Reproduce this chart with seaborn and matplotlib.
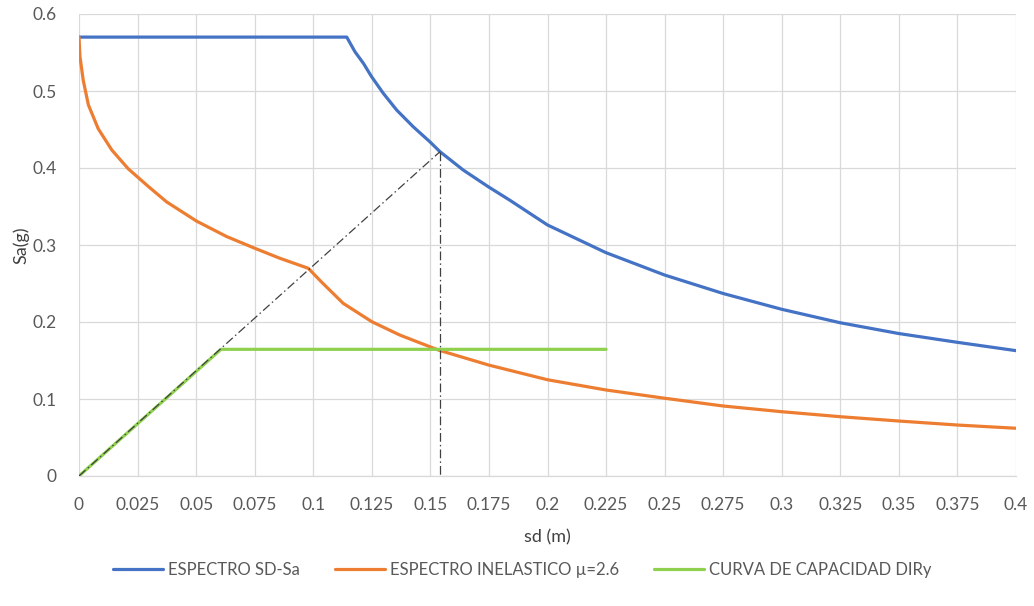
import matplotlib
matplotlib.use("Agg")
import matplotlib.pyplot as plt
import seaborn as sns
import pandas as pd
import numpy as np

# ---- data ----
sd_elastic = [0.0, 0.1143, 0.1178, 0.1214, 0.1249, 0.1299, 0.1356, 0.1427, 0.1498,
              0.1541, 0.164, 0.1747, 0.184, 0.2, 0.225, 0.25, 0.275, 0.3, 0.325,
              0.35, 0.375, 0.4]
sa_elastic = [0.570, 0.570, 0.551, 0.536, 0.5186, 0.497, 0.4753, 0.4535, 0.434,
              0.4212, 0.3974, 0.3757, 0.358, 0.326, 0.290, 0.261, 0.237, 0.2165, 0.199,
              0.185, 0.1736, 0.1628]

sd_inelastic = [0.0, 0.0004, 0.0018, 0.004, 0.0082, 0.014, 0.021, 0.0296, 0.0374,
                0.0502, 0.063, 0.0751, 0.0858, 0.0979, 0.1035, 0.1128, 0.125, 0.137,
                0.1534, 0.175, 0.2, 0.225, 0.25, 0.275, 0.3, 0.325, 0.35, 0.375, 0.4]
sa_inelastic = [0.570, 0.545, 0.514, 0.482, 0.451, 0.4234, 0.399, 0.376, 0.356,
                0.331, 0.311, 0.2957, 0.2827, 0.2697, 0.252, 0.2242, 0.2004, 0.183,
                0.1636, 0.144, 0.125, 0.1117, 0.101, 0.0909, 0.0835, 0.077, 0.0714,
                0.0662, 0.062]

sd_capacity = [0.0, 0.0606, 0.225]
sa_capacity = [0.0, 0.1645, 0.1645]

# performance-point construction lines
sd_diag = [0.0, 0.1541]
sa_diag = [0.0, 0.4212]
sd_vert = [0.1541, 0.1541]
sa_vert = [0.4212, 0.0]

labels = ["ESPECTRO SD-Sa", "ESPECTRO INELASTICO \u00b5=2.6", "CURVA DE CAPACIDAD DIRy"]
colors = ["#4472C4", "#ED7D31", "#8FD14F"]

x_ticks = [0, 0.025, 0.05, 0.075, 0.1, 0.125, 0.15, 0.175, 0.2, 0.225, 0.25,
           0.275, 0.3, 0.325, 0.35, 0.375, 0.4]
x_ticklabels = ["0", "0.025", "0.05", "0.075", "0.1", "0.125", "0.15", "0.175", "0.2",
                "0.225", "0.25", "0.275", "0.3", "0.325", "0.35", "0.375", "0.4"]
y_ticks = [0, 0.1, 0.2, 0.3, 0.4, 0.5, 0.6]
y_ticklabels = ["0", "0.1", "0.2", "0.3", "0.4", "0.5", "0.6"]

# ---- figure ----
sns.set_theme(style="white")
plt.rcParams["font.family"] = ["Lato", "DejaVu Sans"]

fig = plt.figure(figsize=(10.34, 6.06), dpi=100)
ax = fig.add_axes([79 / 1034, 1 - 476 / 606, (1016 - 79) / 1034, (476 - 14) / 606])

df_el = pd.DataFrame({"sd": sd_elastic, "sa": sa_elastic})
df_in = pd.DataFrame({"sd": sd_inelastic, "sa": sa_inelastic})
df_cap = pd.DataFrame({"sd": sd_capacity, "sa": sa_capacity})
df_diag = pd.DataFrame({"sd": sd_diag, "sa": sa_diag})
df_vert = pd.DataFrame({"sd": sd_vert, "sa": sa_vert})

sns.lineplot(data=df_el, x="sd", y="sa", ax=ax, color=colors[0], lw=2.3,
             estimator=None, sort=False, label=labels[0], zorder=3)
sns.lineplot(data=df_in, x="sd", y="sa", ax=ax, color=colors[1], lw=2.3,
             estimator=None, sort=False, label=labels[1], zorder=3)
sns.lineplot(data=df_cap, x="sd", y="sa", ax=ax, color=colors[2], lw=2.3,
             estimator=None, sort=False, label=labels[2], zorder=3)
sns.lineplot(data=df_diag, x="sd", y="sa", ax=ax, color="#404040", lw=0.9,
             estimator=None, sort=False, zorder=4, legend=False)
sns.lineplot(data=df_vert, x="sd", y="sa", ax=ax, color="#404040", lw=0.9,
             estimator=None, sort=False, zorder=4, legend=False)
for ln in ax.lines:
    ln.set_solid_joinstyle("round")
ax.lines[3].set_dashes([7, 2.5, 1.2, 2.5])
ax.lines[4].set_dashes([7, 2.5, 1.2, 2.5])

ax.set_xlim(0, 0.4)
ax.set_ylim(0, 0.6)
ax.set_xticks(x_ticks)
ax.set_xticklabels(x_ticklabels)
ax.set_yticks(y_ticks)
ax.set_yticklabels(y_ticklabels)
ax.tick_params(axis="both", length=0, labelsize=12.5, labelcolor="#595959")
ax.tick_params(axis="x", pad=15)
ax.tick_params(axis="y", pad=16)

ax.grid(True, color="#D9D9D9", lw=0.9)
ax.set_axisbelow(True)
for s in ["top", "right", "left"]:
    ax.spines[s].set_visible(False)
ax.spines["bottom"].set_color("#D9D9D9")
ax.spines["bottom"].set_linewidth(0.9)

ax.set_xlabel("sd (m)", fontsize=13, color="#404040", labelpad=12)
ax.set_ylabel("Sa(g)", fontsize=13, color="#404040", labelpad=2)

handles, labs = ax.get_legend_handles_labels()
ax.get_legend().remove()
fig.legend(handles, labs, loc="center", bbox_to_anchor=(0.505, 1 - 570 / 606),
           ncol=3, frameon=False, fontsize=12, handlelength=3.0,
           columnspacing=2.1, handletextpad=0.3, labelcolor="#595959")

fig.savefig("out.png", dpi=100)
